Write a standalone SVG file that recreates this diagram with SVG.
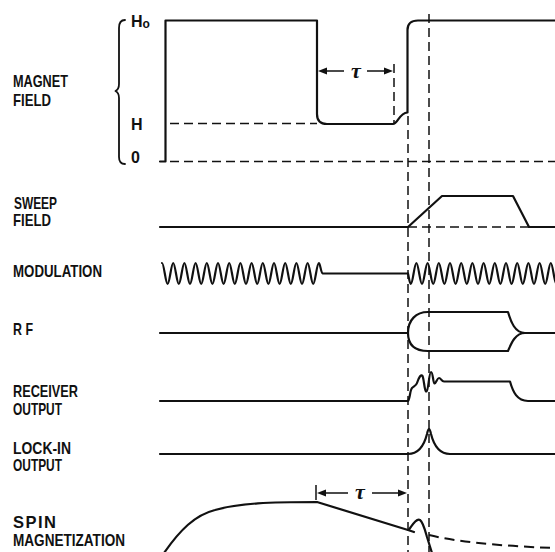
<svg xmlns="http://www.w3.org/2000/svg" width="555" height="552" viewBox="0 0 555 552">
<style>
.lbl{font-family:"Liberation Sans","DejaVu Sans",sans-serif;font-size:16.5px;font-weight:bold;fill:#111}
.ax{font-family:"Liberation Sans","DejaVu Sans",sans-serif;font-size:16px;font-weight:bold;fill:#111}
.tau{font-family:"Liberation Serif","DejaVu Serif",serif;font-size:22px;font-style:italic;font-weight:bold;fill:#111}
.tr{fill:none;stroke:#111;stroke-width:2.2;stroke-linejoin:round;stroke-linecap:round}
.dsh{fill:none;stroke:#111;stroke-width:1.5;stroke-dasharray:9 5}
.thin{fill:none;stroke:#111;stroke-width:1.5}
.ah{fill:#111}
</style>
<rect width="555" height="552" fill="#fff"/>

<g id="labels">
<text class="lbl" x="13" y="87" textLength="55" lengthAdjust="spacingAndGlyphs">MAGNET</text>
<text class="lbl" x="13" y="106" textLength="38" lengthAdjust="spacingAndGlyphs">FIELD</text>
<text class="lbl" x="14" y="209" textLength="43" lengthAdjust="spacingAndGlyphs">SWEEP</text>
<text class="lbl" x="13" y="226" textLength="38" lengthAdjust="spacingAndGlyphs">FIELD</text>
<text class="lbl" x="13" y="277" textLength="89" lengthAdjust="spacingAndGlyphs">MODULATION</text>
<text class="lbl" x="13" y="335" textLength="20" lengthAdjust="spacingAndGlyphs">R F</text>
<text class="lbl" x="13" y="397" textLength="65" lengthAdjust="spacingAndGlyphs">RECEIVER</text>
<text class="lbl" x="13" y="415" textLength="49" lengthAdjust="spacingAndGlyphs">OUTPUT</text>
<text class="lbl" x="13" y="454" textLength="58" lengthAdjust="spacingAndGlyphs">LOCK-IN</text>
<text class="lbl" x="13" y="471" textLength="49" lengthAdjust="spacingAndGlyphs">OUTPUT</text>
<text class="lbl" x="13" y="528" textLength="43" lengthAdjust="spacing">SPIN</text>
<text class="lbl" x="13" y="546" textLength="112" lengthAdjust="spacingAndGlyphs">MAGNETIZATION</text>
</g>

<g id="magnet-field">
<path class="tr" d="M125,20 C121,20 119,23 119,28 L119,84 C119,88 117.5,90 115.5,91 C117.5,92 119,94 119,98 L119,157 C119,162 121,164 125,164" style="stroke-width:1.8"/>
<text class="ax" x="131" y="27">H<tspan font-size="12" dy="1">o</tspan></text>
<text class="ax" x="131" y="130">H</text>
<text class="ax" x="131" y="163">0</text>
<path class="dsh" d="M170,123.5 L317,123.5"/>
<path class="dsh" d="M170,161.5 L555,161.5"/>
<path class="tr" d="M160,161.5 L165.5,161.5 L165.5,20.5 L317,20.5 L317,114 Q317,124 327,124 L393,124 C398,124 399,113 407.5,112.5 L407.5,30 Q407.5,20.5 418,20.5 L555,20.5"/>
<path class="dsh" d="M394,64 L394,123"/>
<path class="thin" d="M326,71 L344,71 M367,71 L385,71"/>
<polygon class="ah" points="318,71 327,67.5 327,74.5"/>
<polygon class="ah" points="393,71 384,67.5 384,74.5"/>
<text class="tau" x="356" y="78" text-anchor="middle">τ</text>
</g>

<g id="sweep-field">
<path class="tr" d="M160,227 L408,227 L442,196 L513,196 L529,227 L555,227"/>
<path class="dsh" d="M408,227 L529,227"/>
</g>

<g id="modulation">
<path class="tr" d="M162,263 c2,0 3.6,21 5.6,21 c2,0 3.6,-21 5.6,-21 c2,0 3.6,21 5.6,21 c2,0 3.6,-21 5.6,-21 c2,0 3.6,21 5.6,21 c2,0 3.6,-21 5.6,-21 c2,0 3.6,21 5.6,21 c2,0 3.6,-21 5.6,-21 c2,0 3.6,21 5.6,21 c2,0 3.6,-21 5.6,-21 c2,0 3.6,21 5.6,21 c2,0 3.6,-21 5.6,-21 c2,0 3.6,21 5.6,21 c2,0 3.6,-21 5.6,-21 c2,0 3.6,21 5.6,21 c2,0 3.6,-21 5.6,-21 c2,0 3.6,21 5.6,21 c2,0 3.6,-21 5.6,-21 c2,0 3.6,21 5.6,21 c2,0 3.6,-21 5.6,-21 c2,0 3.6,21 5.6,21 c2,0 3.6,-21 5.6,-21 c2,0 3.6,21 5.6,21 c2,0 3.6,-21 5.6,-21 c2,0 3.6,21 5.6,21 c2,0 3.6,-21 5.6,-21 c2,0 3.6,21 5.6,21 c2,0 3.6,-21 5.6,-21 c1.5,0 2,10 4,10.5 L408,273.5"/>
<path class="tr" d="M408,273.5 c1,4 1.6,10.5 2.8,10.5 c2,0 3.6,-21 5.6,-21 c2,0 3.6,21 5.6,21 c2,0 3.6,-21 5.6,-21 c2,0 3.6,21 5.6,21 c2,0 3.6,-21 5.6,-21 c2,0 3.6,21 5.6,21 c2,0 3.6,-21 5.6,-21 c2,0 3.6,21 5.6,21 c2,0 3.6,-21 5.6,-21 c2,0 3.6,21 5.6,21 c2,0 3.6,-21 5.6,-21 c2,0 3.6,21 5.6,21 c2,0 3.6,-21 5.6,-21 c2,0 3.6,21 5.6,21 c2,0 3.6,-21 5.6,-21 c2,0 3.6,21 5.6,21 c2,0 3.6,-21 5.6,-21 c2,0 3.6,21 5.6,21 c2,0 3.6,-21 5.6,-21 c2,0 3.6,21 5.6,21 c2,0 3.6,-21 5.6,-21 c2,0 3.6,21 5.6,21 c2,0 3.6,-21 5.6,-21 c2,0 3.6,21 5.6,21 c2,0 3.6,-21 5.6,-21 c2,0 3.6,21 5.6,21"/>
</g>

<g id="rf">
<path class="tr" d="M160,333 L408,333 C408,320 416,312 428,312 L508,312 C511,322 515,333 525,333 L555,333"/>
<path class="tr" d="M408,333 C408,346 416,351 428,351 L508,351 C511,344 515,333 525,333"/>
</g>

<g id="receiver-output">
<path class="tr" d="M160,401 L408,401 C410,399 410,390 412,388 C414,386 416,386 417,383 C419,377 421,374 422.5,376 C424,379 424.5,392 426.5,391.5 C428.5,391 429,372 431,372 C433,372 433,383 434.5,383.5 C436,384 437,378 439,378 C441,378 441.5,381.5 444,381.5 L510,381.5 C513,392 517,401 528,401 L555,401"/>
</g>

<g id="lock-in-output">
<path class="tr" d="M160,454 L408,454 C418,454 424,446 427,434 Q429,424 431,434 C434,446 440,454 450,454 L555,454"/>
</g>

<g id="spin-magnetization">
<path class="tr" d="M164,553 C180,530 195,515 215,510 C240,503 270,502 317,502 L408,530 L414,532"/>
<path class="tr" d="M409,529.5 C412,526 416,518 420,520 C423,522 425,530 427,537 L432,553"/>
<path class="dsh" d="M429,535 Q470,545 555,548" style="stroke-width:2;stroke-dasharray:10 6"/>
<path class="thin" d="M316,485 L316,500"/>
<path class="thin" d="M324,493 L348,493 M372,493 L399,493"/>
<polygon class="ah" points="317,493 326,489.5 326,496.5"/>
<polygon class="ah" points="407,493 398,489.5 398,496.5"/>
<text class="tau" x="360" y="499" text-anchor="middle">τ</text>
</g>

<g id="connectors">
<path class="dsh" d="M408,116 L408,552"/>
<path class="dsh" d="M429,14 L429,552"/>
</g>
</svg>
